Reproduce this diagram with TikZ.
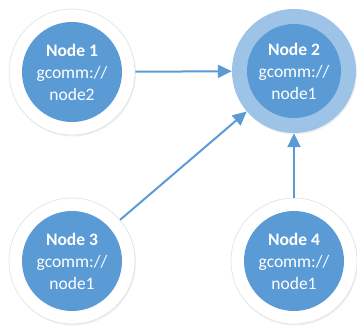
\documentclass[tikz,border=0pt]{standalone}
\usepackage{fontspec}
\setmainfont{Carlito}
\usetikzlibrary{arrows.meta,shadows}
\definecolor{nodeblue}{HTML}{5B9BD5}
\definecolor{ringblue}{HTML}{9DC3E6}
\tikzset{
  ring/.style={circle, fill=white, draw=black!12, line width=0.6pt, minimum size=126pt, inner sep=0pt,
    drop shadow={shadow xshift=1pt, shadow yshift=-1.5pt, opacity=0.12}},
  mainring/.style={circle, fill=ringblue, minimum size=124pt, inner sep=0pt,
    drop shadow={shadow xshift=1pt, shadow yshift=-1.5pt, opacity=0.12}},
  core/.style={circle, fill=nodeblue, minimum size=100pt, inner sep=0pt, text=white,
    align=center, font=\fontsize{17.5}{22}\selectfont},
  link/.style={draw=nodeblue, line width=2pt, -{Triangle[length=14pt,width=13pt]}}
}
\begin{document}
\begin{tikzpicture}[x=1pt,y=1pt]
			%%%%% START %%%%%
			\useasboundingbox (0,0) rectangle (357,-326);
			
			\node[ring] (n1) at (72,-72) {};
			\node[core] (c1) at (n1) {\textbf{Node 1}\\gcomm://\\node2};
			
			\node[mainring] (n2) at (294,-71) {};
			\node[core, minimum size=94pt] (c2) at (n2) {\textbf{Node 2}\\gcomm://\\node1};
			
			\node[ring] (n3) at (72,-261) {};
			\node[core] (c3) at (n3) {\textbf{Node 3}\\gcomm://\\node1};
			
			\node[ring] (n4) at (294,-261) {};
			\node[core] (c4) at (n4) {\textbf{Node 4}\\gcomm://\\node1};
			
			\draw[link] (n1) -- (n2);
			\draw[link] (n3) -- (n2);
			\draw[link] (n4) -- (n2);
			
			%%%%% END %%%%%
\end{tikzpicture}
\end{document}
